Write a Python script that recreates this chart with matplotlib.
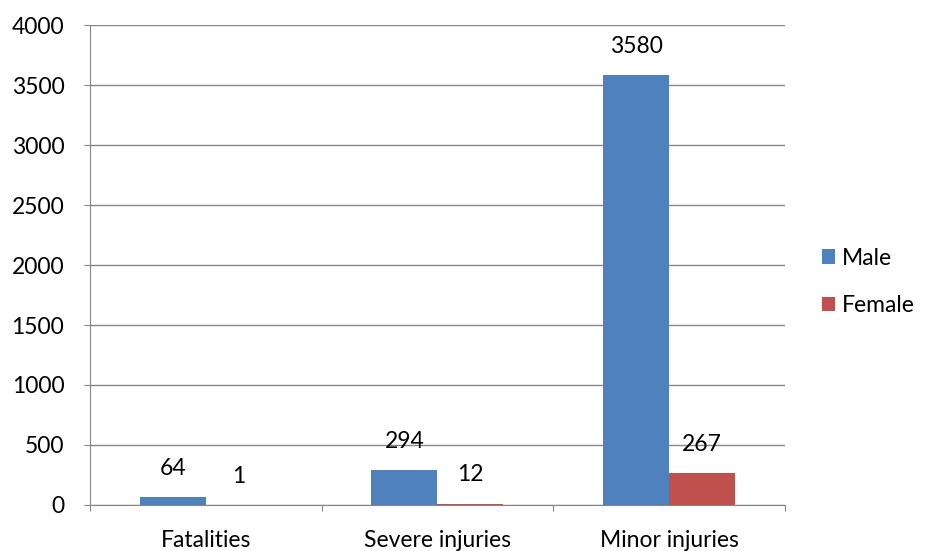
import matplotlib.pyplot as plt
import numpy as np

# Casualties by sex
categories = ['Fatalities', 'Severe injuries', 'Minor injuries']
male = [64, 294, 3580]
female = [1, 12, 267]
yticks = [0, 500, 1000, 1500, 2000, 2500, 3000, 3500, 4000]

plt.rcParams['font.family'] = ['Lato', 'DejaVu Sans']
fs = 16.5

fig = plt.figure(figsize=(9.3, 5.51), dpi=100)
ax = fig.add_axes([0.0968, 0.0835, 0.7472, 0.8711])

x = np.arange(len(categories))
w = 0.285
b1 = ax.bar(x - w / 2, male, w, color='#4F81BD', label='Male', zorder=3)
b2 = ax.bar(x + w / 2, female, w, color='#C0504D', label='Female', zorder=3)

for bars, vals in ((b1, male), (b2, female)):
    for rect, v in zip(bars, vals):
        ax.annotate(str(v), (rect.get_x() + rect.get_width() / 2, v),
                    xytext=(0, 13), textcoords='offset points',
                    ha='center', va='bottom', fontsize=fs)

ax.set_xlim(-0.5, 2.5)
ax.set_ylim(0, 4000)
ax.set_yticks(yticks)
ax.set_yticklabels([str(t) for t in yticks], fontsize=fs)
ax.yaxis.grid(True, color='#868686', linewidth=1, zorder=0)

# category labels centred, tick marks between groups
ax.set_xticks([-0.5, 0.5, 1.5, 2.5])
ax.set_xticklabels([])
ax.set_xticks(x, minor=True)
ax.set_xticklabels(categories, minor=True, fontsize=fs)
ax.tick_params(axis='x', which='minor', length=0, pad=18)
ax.tick_params(axis='x', which='major', length=4.5, color='#868686', direction='out')
ax.tick_params(axis='y', length=4.5, color='#868686', direction='out', pad=14)

for side in ('top', 'right'):
    ax.spines[side].set_visible(False)
for side in ('left', 'bottom'):
    ax.spines[side].set_color('#868686')

ax.legend(loc='center left', bbox_to_anchor=(1.0, 0.465), frameon=False,
          fontsize=fs, handlelength=0.6, handleheight=0.6, handletextpad=0.3,
          labelspacing=1.15, borderaxespad=1.2)

fig.savefig('out.png', dpi=100)
